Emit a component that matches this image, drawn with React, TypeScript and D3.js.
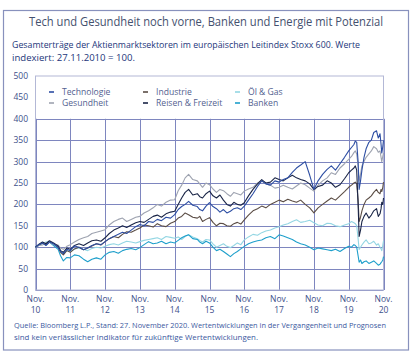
import React from "react";
import * as d3 from "d3";

const dates = [2010.90,2011.00,2011.10,2011.20,2011.30,2011.42,2011.55,2011.62,2011.70,2011.80,2011.90,2012.02,2012.15,2012.28,2012.40,2012.52,2012.65,2012.78,2012.90,2013.02,2013.15,2013.28,2013.40,2013.52,2013.65,2013.78,2013.90,2014.02,2014.15,2014.28,2014.40,2014.52,2014.65,2014.78,2014.90,2015.00,2015.10,2015.20,2015.30,2015.42,2015.55,2015.62,2015.70,2015.80,2015.90,2016.00,2016.10,2016.20,2016.30,2016.40,2016.50,2016.60,2016.70,2016.80,2016.90,2017.02,2017.15,2017.28,2017.40,2017.52,2017.65,2017.78,2017.90,2018.02,2018.15,2018.28,2018.40,2018.52,2018.65,2018.78,2018.90,2019.02,2019.15,2019.28,2019.40,2019.52,2019.65,2019.78,2019.90,2019.98,2020.05,2020.09,2020.13,2020.17,2020.20,2020.24,2020.28,2020.34,2020.40,2020.48,2020.55,2020.62,2020.70,2020.75,2020.80,2020.83,2020.85,2020.88,2020.90];

const technologie = [100,106,110,104,112,108,100,90,85,95,92,103,100,94,98,104,108,106,113,120,125,130,135,132,140,148,153,150,160,158,165,162,170,168,176,188,195,200,207,198,195,188,185,196,204,195,190,182,188,180,184,190,192,188,196,210,225,242,255,248,245,255,252,258,262,275,285,292,300,268,235,255,270,282,290,280,295,310,325,333,340,348,345,300,235,255,280,310,330,345,350,368,372,355,365,340,320,335,350];
const gesundheit = [100,104,105,110,112,106,105,98,95,102,106,112,118,122,125,132,135,138,141,152,160,165,168,160,165,170,172,180,185,192,200,196,205,210,211,232,245,262,270,258,255,248,240,250,246,236,228,235,232,225,219,228,225,222,231,236,240,250,255,248,245,238,240,245,240,236,243,250,246,238,231,245,255,262,274,270,285,295,305,312,321,325,318,290,255,270,290,300,310,318,325,335,330,322,325,310,300,312,320];
const industrie = [100,105,110,106,112,108,100,88,82,92,88,96,100,94,98,103,108,105,113,120,125,122,130,136,135,140,145,152,150,147,155,150,148,156,160,168,172,180,176,170,168,172,160,165,169,158,150,156,155,150,149,155,158,154,164,175,185,190,196,192,200,205,210,206,212,208,205,210,200,192,180,192,200,208,215,210,220,230,240,245,250,252,248,210,160,170,185,200,210,215,220,228,235,228,225,235,230,240,252];
const reisen = [100,107,112,108,115,110,103,92,88,98,95,104,108,104,110,115,117,114,122,132,140,145,150,146,152,157,160,158,165,172,175,170,178,182,184,200,215,228,235,222,225,218,215,225,231,220,215,222,210,200,196,205,200,198,204,220,235,248,258,250,252,262,258,255,262,268,262,258,255,248,235,242,245,255,250,240,246,260,274,280,285,290,280,200,125,140,160,172,180,168,175,185,190,172,178,190,205,200,215];
const oelGas = [100,104,108,112,113,107,100,90,85,92,90,96,98,95,92,97,100,98,102,106,108,105,110,114,112,110,113,116,118,120,122,118,125,123,121,124,118,125,129,124,120,116,112,118,117,108,100,104,108,102,99,104,110,106,117,124,130,128,134,138,140,145,148,152,155,160,164,158,160,163,157,152,150,156,155,150,148,152,155,160,157,155,150,120,95,100,105,112,117,108,110,114,105,108,100,96,92,105,115];
const banken = [100,106,110,105,112,104,95,80,68,76,75,82,80,72,66,72,75,72,82,88,90,86,92,95,97,94,99,106,113,108,110,114,108,112,110,116,122,126,129,120,118,112,108,114,110,100,92,95,90,84,78,85,90,96,102,108,112,115,117,122,125,120,129,126,122,118,112,108,105,100,94,98,96,94,92,95,90,97,102,100,106,104,100,80,65,70,62,66,68,62,65,68,62,58,60,64,66,70,78];

const yTicks = [0,50,100,150,200,250,300,350,400,450,500];
const gridYTicks = [0,50,100,150,200,250,300,350,400];
const xTickYears = [10,11,12,13,14,15,16,17,18,19,20];

const seriesNames = ["Technologie","Gesundheit","Industrie","Reisen & Freizeit","Öl & Gas","Banken"];
const seriesValues = [technologie, gesundheit, industrie, reisen, oelGas, banken];
const seriesColors = ["#2d4ea3","#9ea3b0","#5b4d45","#1a2547","#93d6e3","#1e9fcb"];
const drawOrder = [4,5,2,1,3,0];
const legendPos = [[0,0],[0,1],[1,0],[1,1],[2,0],[2,1]];

export default function App() {
  const W = 416, H = 358;
  const left = 35.5, right = 383.5, top = 76, bottom = 290;
  const x = d3.scaleLinear().domain([2010.9, 2020.9]).range([left, right]);
  const y = d3.scaleLinear().domain([0, 500]).range([bottom, top]);
  const line = d3.line<number>().x((_, i) => x(dates[i])).y(v => y(v));
  const textBlue = "#3d4f8a";
  const font = "'Open Sans', 'Noto Sans', sans-serif";
  return (
    <svg width={W} height={H} style={{ position: "absolute", left: 0, top: 0 }} fontFamily={font}>
      <rect x={0} y={0} width={W} height={H} fill="#fff" />
      <rect x={3.5} y={10.5} width={405} height={339.5} fill="none" stroke="#8891bd" strokeWidth={1.2} />
      <text x={206} y={26} textAnchor="middle" fontSize={12} fill="#44506e" textLength={354} lengthAdjust="spacingAndGlyphs">Tech und Gesundheit noch vorne, Banken und Energie mit Potenzial</text>
      <text x={12} y={48} fontSize={9.6} fill="#23367a" textLength={348} lengthAdjust="spacingAndGlyphs">Gesamterträge der Aktienmarktsektoren im europäischen Leitindex Stoxx 600. Werte</text>
      <text x={12} y={61} fontSize={9.6} fill="#23367a" textLength={123} lengthAdjust="spacingAndGlyphs">indexiert: 27.11.2010 = 100.</text>
      {gridYTicks.map(t => (
        <line key={"h" + t} x1={left} x2={right} y1={Math.round(y(t)) + 0.5} y2={Math.round(y(t)) + 0.5} stroke="#7e86bf" strokeWidth={1} />
      ))}
      {xTickYears.map(t => (
        <line key={"v" + t} x1={Math.round(x(2000.9 + t)) + 0.5} x2={Math.round(x(2000.9 + t)) + 0.5} y1={y(400)} y2={bottom} stroke="#7e86bf" strokeWidth={1} />
      ))}
      <rect x={left} y={top} width={right - left} height={bottom - top} fill="none" stroke="#b3b8d6" strokeWidth={1} />
      {yTicks.map(t => (
        <text key={"yl" + t} x={28} y={y(t) + 3} textAnchor="end" fontSize={8.5} fill={textBlue}>{t}</text>
      ))}
      {xTickYears.map(t => (
        <g key={"xl" + t}>
          <text x={x(2000.9 + t)} y={302} textAnchor="middle" fontSize={8.5} fill={textBlue}>Nov.</text>
          <text x={x(2000.9 + t)} y={313} textAnchor="middle" fontSize={8.5} fill={textBlue}>{t}</text>
        </g>
      ))}
      {drawOrder.map(i => (
        <path key={"s" + i} d={line(seriesValues[i]) || ""} fill="none" stroke={seriesColors[i]} strokeWidth={1.1} strokeLinejoin="round" />
      ))}
      {seriesNames.map((n, i) => {
        const [c, r] = legendPos[i];
        const lx = [49, 143, 235][c];
        const ly = [92, 103][r];
        return (
          <g key={"lg" + i}>
            <line x1={lx} x2={lx + 5} y1={ly} y2={ly} stroke={seriesColors[i]} strokeWidth={1.6} />
            <text x={lx + 13} y={ly + 3} fontSize={8.6} fill="#53618f">{n}</text>
          </g>
        );
      })}
      <text x={14} y={328} fontSize={7.8} fill="#3a58a0" textLength={372} lengthAdjust="spacingAndGlyphs">Quelle: Bloomberg L.P., Stand: 27. November 2020. Wertentwicklungen in der Vergangenheit und Prognosen</text>
      <text x={14} y={340} fontSize={7.8} fill="#3a58a0" textLength={244} lengthAdjust="spacingAndGlyphs">sind kein verlässlicher Indikator für zukünftige Wertentwicklungen.</text>
    </svg>
  );
}
